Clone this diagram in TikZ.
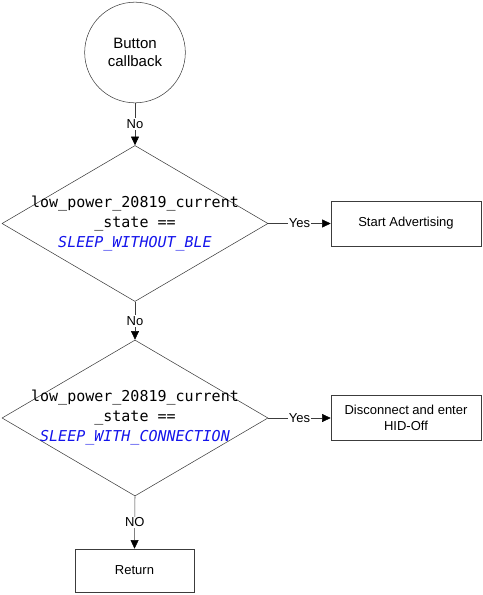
\documentclass[tikz,border=0pt]{standalone}
\usepackage{fontspec}
\setmainfont{Liberation Sans}
\newfontfamily\monof{DejaVu Sans Mono}
\usetikzlibrary{shapes.geometric,arrows.meta}
\definecolor{linegray}{RGB}{60,60,60}
\definecolor{codeblue}{RGB}{20,20,235}
\begin{document}
\begin{tikzpicture}[x=0.75pt,y=-0.75pt,
  every node/.style={font=\fontsize{9.75pt}{11.5pt}\selectfont},
  startc/.style={circle,draw=linegray,minimum size=75.5pt,inner sep=0pt,align=center,font=\fontsize{11.25pt}{13.5pt}\selectfont},
  decision/.style={diamond,draw=linegray,minimum width=199.5pt,minimum height=117pt,inner sep=0pt},
  dtext/.style={align=center,inner sep=0pt,font=\monof\fontsize{11.25pt}{15pt}\selectfont},
  procbox/.style={rectangle,draw=linegray,minimum width=112.5pt,minimum height=33.75pt,inner sep=0pt,align=center},
  retbox/.style={rectangle,draw=linegray,minimum width=89.25pt,minimum height=32.25pt,inner sep=0pt,align=center},
  conn/.style={draw=linegray,-{Triangle[length=6.5pt,width=6pt,fill=black,color=black]}},
  lbl/.style={fill=white,inner sep=1pt}
]
\useasboundingbox (0,0) rectangle (482,595);
\node[startc] (start) at (135,52.5) {Button\\callback};
\node[decision] (d1) at (135,223.5) {};
\node[dtext] (d1t) at (135,223.5) {low\_power\_20819\_current\\\_state ==\\{\color{codeblue}\itshape SLEEP\_WITHOUT\_BLE}};
\node[procbox] (adv) at (406,223.5) {Start Advertising};
\node[decision] (d2) at (135,418) {};
\node[dtext] (d2t) at (135,418) {low\_power\_20819\_current\\\_state ==\\{\color{codeblue}\itshape SLEEP\_WITH\_CONNECTION}};
\node[procbox] (hid) at (406,418) {Disconnect and enter\\HID-Off};
\node[retbox] (ret) at (134.5,570.5) {Return};

\draw[conn] (start) -- node[lbl] {No} (d1);
\draw[conn] (d1.east) -- node[lbl] {Yes} (adv.west);
\draw[conn] (d1.south) -- node[lbl] {No} (d2.north);
\draw[conn] (d2.east) -- node[lbl] {Yes} (hid.west);
\draw[conn] (d2.south) -- node[lbl] {NO} (ret.north);
\end{tikzpicture}
\end{document}
